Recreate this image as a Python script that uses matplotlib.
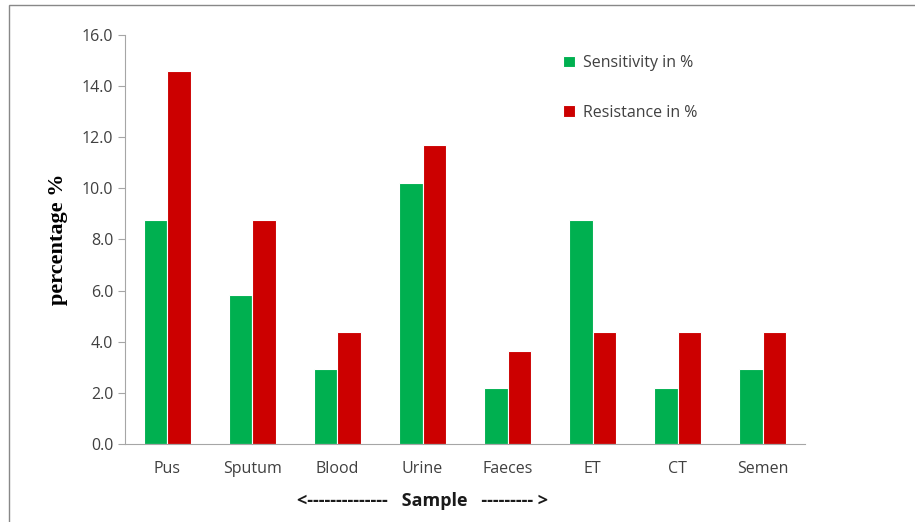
import matplotlib.pyplot as plt
import numpy as np
from matplotlib.patches import Rectangle

samples = ['Pus', 'Sputum', 'Blood', 'Urine', 'Faeces', 'ET', 'CT', 'Semen']
sensitivity = [8.76, 5.84, 2.92, 10.22, 2.19, 8.76, 2.19, 2.92]
resistance = [14.60, 8.76, 4.38, 11.68, 3.65, 4.38, 4.38, 4.38]
yticks = [0, 2, 4, 6, 8, 10, 12, 14, 16]

plt.rcParams['font.family'] = ['Open Sans', 'DejaVu Sans']

fig = plt.figure(figsize=(9.15, 5.22), dpi=100)
ax = fig.add_axes([0.1366, 0.1494, 0.7432, 0.7836])

x = np.arange(len(samples))
w = 0.28
ax.bar(x - w / 2, sensitivity, w, color='#00b050', edgecolor='white', linewidth=0.8,
       label='Sensitivity in %')
ax.bar(x + w / 2, resistance, w, color='#cc0000', edgecolor='white', linewidth=0.8,
       label='Resistance in %')

ax.set_xlim(-0.5, len(samples) - 0.5)
ax.set_ylim(0, 16)
ax.set_yticks(yticks)
ax.set_yticklabels(['%.1f' % v for v in yticks])
ax.set_xticks(x)
ax.set_xticklabels(samples)

for s in ['top', 'right']:
    ax.spines[s].set_visible(False)
for s in ['left', 'bottom']:
    ax.spines[s].set_color('#a6a6a6')
ax.tick_params(axis='y', colors='#a6a6a6', labelcolor='#404040', labelsize=11.5,
               length=5, direction='out')
ax.tick_params(axis='x', length=0, labelcolor='#404040', labelsize=11.5, pad=12)

ax.set_ylabel('percentage %', family='Liberation Serif', fontweight='bold',
              fontsize=16, labelpad=10)
ax.set_xlabel('<--------------   Sample   --------- >', fontweight='bold',
              fontsize=13, color='#1a1a1a')
ax.xaxis.set_label_coords(0.437, -0.117)

ax.legend(loc='upper left', bbox_to_anchor=(0.6, 0.922), bbox_transform=fig.transFigure,
          frameon=False, fontsize=11.5, handlelength=0.7, handleheight=0.7,
          handletextpad=0.5, labelspacing=2.1, labelcolor='#404040')

fig.patches.append(Rectangle((9 / 915, -0.1), 1.2, 1 - 5 / 522 + 0.1,
                             transform=fig.transFigure, fill=False,
                             edgecolor='#888888', linewidth=1))

fig.savefig('out.png', dpi=100)
